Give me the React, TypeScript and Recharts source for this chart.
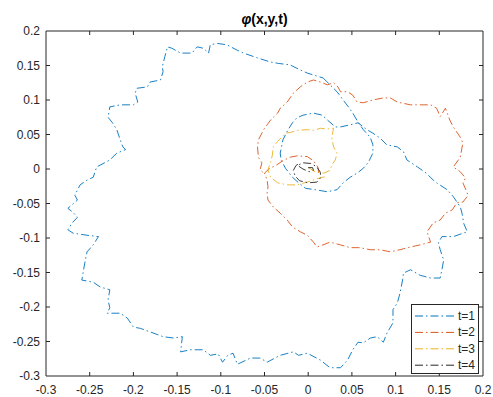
import { ScatterChart, Scatter, XAxis, YAxis, ReferenceLine } from "recharts"

const xTicks = [-0.3, -0.25, -0.2, -0.15, -0.1, -0.05, 0, 0.05, 0.1, 0.15, 0.2]
const yTicks = [-0.3, -0.25, -0.2, -0.15, -0.1, -0.05, 0, 0.05, 0.1, 0.15, 0.2]
const seriesNames = ["t=1", "t=2", "t=3", "t=4"]
const seriesColors = ["#0072BD", "#D95319", "#EDB120", "#262626"]

// contour points [x, y]
const t1Points = [
  [0.017, 0.132], [0.025, 0.122], [0.033, 0.112], [0.04, 0.1], [0.046, 0.09], [0.051, 0.081],
  [0.057, 0.068], [0.063, 0.057], [0.071, 0.046], [0.074, 0.035], [0.074, 0.023], [0.069, 0.01],
  [0.063, 0.001], [0.056, -0.006], [0.048, -0.012], [0.04, -0.02], [0.033, -0.03], [0.022, -0.033],
  [0.008, -0.03], [-0.003, -0.028], [-0.011, -0.02], [-0.018, -0.012], [-0.026, 0.001], [-0.031, 0.013],
  [-0.032, 0.023], [-0.029, 0.042], [-0.023, 0.057], [-0.018, 0.067], [-0.013, 0.074], [-0.006, 0.078],
  [0.006, 0.081], [0.016, 0.078], [0.022, 0.071], [0.031, 0.061], [0.037, 0.061], [0.048, 0.064],
  [0.057, 0.067], [0.067, 0.057], [0.074, 0.052], [0.082, 0.045], [0.09, 0.035], [0.102, 0.032],
  [0.109, 0.025], [0.113, 0.013], [0.125, 0.003], [0.135, -0.006], [0.143, -0.016], [0.148, -0.021],
  [0.159, -0.03], [0.166, -0.04], [0.174, -0.055], [0.176, -0.064], [0.178, -0.079], [0.182, -0.091],
  [0.166, -0.098], [0.153, -0.098], [0.149, -0.107], [0.151, -0.117], [0.155, -0.132], [0.153, -0.146],
  [0.151, -0.158], [0.14, -0.158], [0.128, -0.154], [0.117, -0.146], [0.109, -0.151], [0.108, -0.161],
  [0.105, -0.18], [0.102, -0.194], [0.097, -0.204], [0.097, -0.223], [0.09, -0.238], [0.086, -0.251],
  [0.079, -0.243], [0.071, -0.245], [0.063, -0.252], [0.057, -0.251], [0.051, -0.262], [0.045, -0.277],
  [0.037, -0.288], [0.025, -0.288], [0.014, -0.277], [-0.001, -0.267], [-0.011, -0.27], [-0.017, -0.265],
  [-0.032, -0.27], [-0.047, -0.28], [-0.055, -0.274], [-0.066, -0.274], [-0.081, -0.283], [-0.086, -0.267],
  [-0.092, -0.27], [-0.098, -0.28], [-0.103, -0.268], [-0.112, -0.27], [-0.12, -0.262], [-0.135, -0.262],
  [-0.146, -0.265], [-0.144, -0.243], [-0.154, -0.245], [-0.166, -0.243], [-0.181, -0.236], [-0.192, -0.231],
  [-0.2, -0.229], [-0.207, -0.216], [-0.215, -0.209], [-0.23, -0.209], [-0.227, -0.201], [-0.229, -0.19],
  [-0.227, -0.175], [-0.238, -0.171], [-0.246, -0.164], [-0.259, -0.161], [-0.257, -0.146], [-0.255, -0.132],
  [-0.253, -0.12], [-0.246, -0.11], [-0.24, -0.098], [-0.253, -0.096], [-0.269, -0.093], [-0.275, -0.088],
  [-0.27, -0.078], [-0.264, -0.07], [-0.269, -0.063], [-0.275, -0.057], [-0.264, -0.045], [-0.267, -0.038],
  [-0.261, -0.023], [-0.253, -0.016], [-0.246, -0.012], [-0.242, 0.003], [-0.227, 0.013], [-0.219, 0.023],
  [-0.209, 0.028], [-0.212, 0.032], [-0.215, 0.042], [-0.219, 0.057], [-0.224, 0.067], [-0.229, 0.075],
  [-0.227, 0.09], [-0.215, 0.093], [-0.2, 0.093], [-0.195, 0.097], [-0.198, 0.11], [-0.196, 0.117],
  [-0.184, 0.119], [-0.181, 0.126], [-0.169, 0.129], [-0.166, 0.141], [-0.167, 0.148], [-0.164, 0.163],
  [-0.161, 0.177], [-0.156, 0.175], [-0.146, 0.168], [-0.133, 0.168], [-0.127, 0.177], [-0.12, 0.175],
  [-0.114, 0.168], [-0.112, 0.18], [-0.104, 0.182], [-0.093, 0.18], [-0.081, 0.172], [-0.074, 0.168],
  [-0.058, 0.161], [-0.043, 0.155], [-0.034, 0.153], [-0.021, 0.151], [-0.013, 0.146], [-0.001, 0.139],
  [0.017, 0.132],
]

const t2Points = [
  [0.012, -0.006], [0.011, 0.003], [0.006, 0.012], [-0.001, 0.018], [-0.013, 0.019], [-0.021, 0.017],
  [-0.029, 0.012], [-0.036, 0.006], [-0.045, 0], [-0.05, -0.006], [-0.047, -0.016], [-0.046, -0.026],
  [-0.047, -0.035], [-0.046, -0.045], [-0.04, -0.055], [-0.032, -0.064], [-0.024, -0.074], [-0.018, -0.084],
  [-0.009, -0.091], [-0.001, -0.096], [0.006, -0.106], [0.01, -0.113], [0.017, -0.11], [0.025, -0.106],
  [0.037, -0.11], [0.048, -0.114], [0.059, -0.114], [0.071, -0.117], [0.082, -0.117], [0.094, -0.12],
  [0.105, -0.117], [0.117, -0.113], [0.128, -0.11], [0.14, -0.106], [0.136, -0.091], [0.143, -0.078],
  [0.151, -0.074], [0.157, -0.064], [0.165, -0.059], [0.17, -0.049], [0.177, -0.048], [0.183, -0.038],
  [0.177, -0.02], [0.18, -0.013], [0.174, -0.004], [0.166, 0.003], [0.174, 0.017], [0.177, 0.038],
  [0.174, 0.046], [0.166, 0.061], [0.162, 0.071], [0.157, 0.088], [0.151, 0.076], [0.147, 0.088],
  [0.14, 0.093], [0.128, 0.093], [0.117, 0.093], [0.102, 0.097], [0.094, 0.103], [0.086, 0.103],
  [0.074, 0.1], [0.063, 0.096], [0.056, 0.097], [0.051, 0.107], [0.045, 0.112], [0.037, 0.112],
  [0.034, 0.119], [0.029, 0.125], [0.022, 0.122], [0.014, 0.126], [0.006, 0.129], [-0.001, 0.126],
  [-0.009, 0.119], [-0.017, 0.11], [-0.024, 0.097], [-0.032, 0.088], [-0.035, 0.081], [-0.043, 0.071],
  [-0.047, 0.064], [-0.051, 0.057], [-0.057, 0.042], [-0.058, 0.032], [-0.057, 0.017], [-0.053, 0.009],
  [-0.055, -0.001], [-0.051, -0.006],
]

const t3Points = [
  [0, 0.002], [0.008, -0.004], [0.018, -0.006], [0.025, -0.002], [0.027, 0.006], [0.031, 0.013],
  [0.033, 0.023], [0.029, 0.032], [0.027, 0.046], [0.029, 0.059], [0.022, 0.058], [0.014, 0.059],
  [0.006, 0.056], [-0.001, 0.057], [-0.013, 0.056], [-0.02, 0.053], [-0.026, 0.052], [-0.03, 0.046],
  [-0.035, 0.04], [-0.04, 0.032], [-0.041, 0.02], [-0.043, 0.01], [-0.046, -0.001], [-0.043, -0.012],
  [-0.035, -0.02], [-0.024, -0.023], [-0.013, -0.023], [-0.001, -0.019], [0.01, -0.014], [0.02, -0.011],
]

const t4Points = [
  [0, 0.002], [0.005, 0.002], [0.006, -0.002], [0.001, -0.004], [-0.006, 0], [-0.012, 0.005],
  [-0.006, 0.009], [0.003, 0.008], [0.01, 0.003], [0.014, -0.005], [0.014, -0.013], [0.01, -0.019],
  [0, -0.02], [-0.01, -0.017], [-0.015, -0.01], [-0.017, -0.002], [-0.014, 0.005], [-0.009, 0.009],
]

const allSeries = [t1Points, t2Points, t3Points, t4Points]

const W = 493
const H = 397
const PLOT_W = 437
const PLOT_H = 345
const TICK_PX = 4
const DASH = "8 3 1.5 3"
const FONT = "'Liberation Sans', Arial, Helvetica, sans-serif"

const X_MIN = xTicks[0]
const X_MAX = xTicks[xTicks.length - 1]
const Y_MIN = yTicks[0]
const Y_MAX = yTicks[yTicks.length - 1]
const tickDy = (TICK_PX * (Y_MAX - Y_MIN)) / PLOT_H
const tickDx = (TICK_PX * (X_MAX - X_MIN)) / PLOT_W

const NoDot = () => <g />

export default function App() {
  const axisTick = { fill: "#262626", fontSize: 12, fontFamily: FONT }
  return (
    <div style={{ position: "absolute", left: 0, top: 0, width: W, height: H, background: "#fff" }}>
      <ScatterChart width={W} height={H} margin={{ top: 31, right: 10, bottom: 0, left: 0 }}>
        <XAxis
          type="number"
          dataKey="x"
          domain={[X_MIN, X_MAX]}
          ticks={xTicks}
          allowDataOverflow
          height={21}
          tickLine={false}
          tickSize={0}
          tickMargin={9}
          tick={axisTick}
          stroke="#262626"
          interval={0}
        />
        <YAxis
          type="number"
          dataKey="y"
          domain={[Y_MIN, Y_MAX]}
          ticks={yTicks}
          allowDataOverflow
          width={46}
          tickLine={false}
          tickSize={0}
          tickMargin={6}
          tick={axisTick}
          stroke="#262626"
          interval={0}
        />
        <ReferenceLine x={X_MAX} stroke="#262626" ifOverflow="visible" />
        <ReferenceLine y={Y_MAX} stroke="#262626" ifOverflow="visible" />
        {xTicks.slice(1, -1).map((t) => (
          <ReferenceLine key={`xb${t}`} ifOverflow="visible" stroke="#262626"
            segment={[{ x: t, y: Y_MIN }, { x: t, y: Y_MIN + tickDy }]} />
        ))}
        {xTicks.slice(1, -1).map((t) => (
          <ReferenceLine key={`xt${t}`} ifOverflow="visible" stroke="#262626"
            segment={[{ x: t, y: Y_MAX }, { x: t, y: Y_MAX - tickDy }]} />
        ))}
        {yTicks.slice(1, -1).map((t) => (
          <ReferenceLine key={`yl${t}`} ifOverflow="visible" stroke="#262626"
            segment={[{ x: X_MIN, y: t }, { x: X_MIN + tickDx, y: t }]} />
        ))}
        {yTicks.slice(1, -1).map((t) => (
          <ReferenceLine key={`yr${t}`} ifOverflow="visible" stroke="#262626"
            segment={[{ x: X_MAX, y: t }, { x: X_MAX - tickDx, y: t }]} />
        ))}
        {allSeries.map((pts, i) => (
          <Scatter
            key={seriesNames[i]}
            name={seriesNames[i]}
            data={pts.map(([x, y]) => ({ x, y }))}
            fill={seriesColors[i]}
            line={{ stroke: seriesColors[i], strokeWidth: 0.9, strokeDasharray: DASH }}
            lineType="joint"
            shape={NoDot}
            isAnimationActive={false}
          />
        ))}
      </ScatterChart>
      <svg width={W} height={H} style={{ position: "absolute", left: 0, top: 0, pointerEvents: "none" }}>
        <text x={264.5} y={24} textAnchor="middle" fontFamily={FONT} fontSize={14} fontWeight="bold" fill="#000">
          <tspan fontStyle="italic">φ</tspan>(x,y,t)
        </text>
        <g transform="translate(411,304)">
          <rect x={0.5} y={0.5} width={67} height={69} fill="#fff" stroke="#262626" strokeWidth={1} />
          {seriesNames.map((n, i) => (
            <g key={n} transform={`translate(0,${12 + i * 16.4})`}>
              <line x1={4} x2={46} y1={0} y2={0} stroke={seriesColors[i]} strokeWidth={1} strokeDasharray={DASH} />
              <text x={47} y={4} fontFamily={FONT} fontSize={12} fill="#262626">{n}</text>
            </g>
          ))}
        </g>
      </svg>
    </div>
  )
}
